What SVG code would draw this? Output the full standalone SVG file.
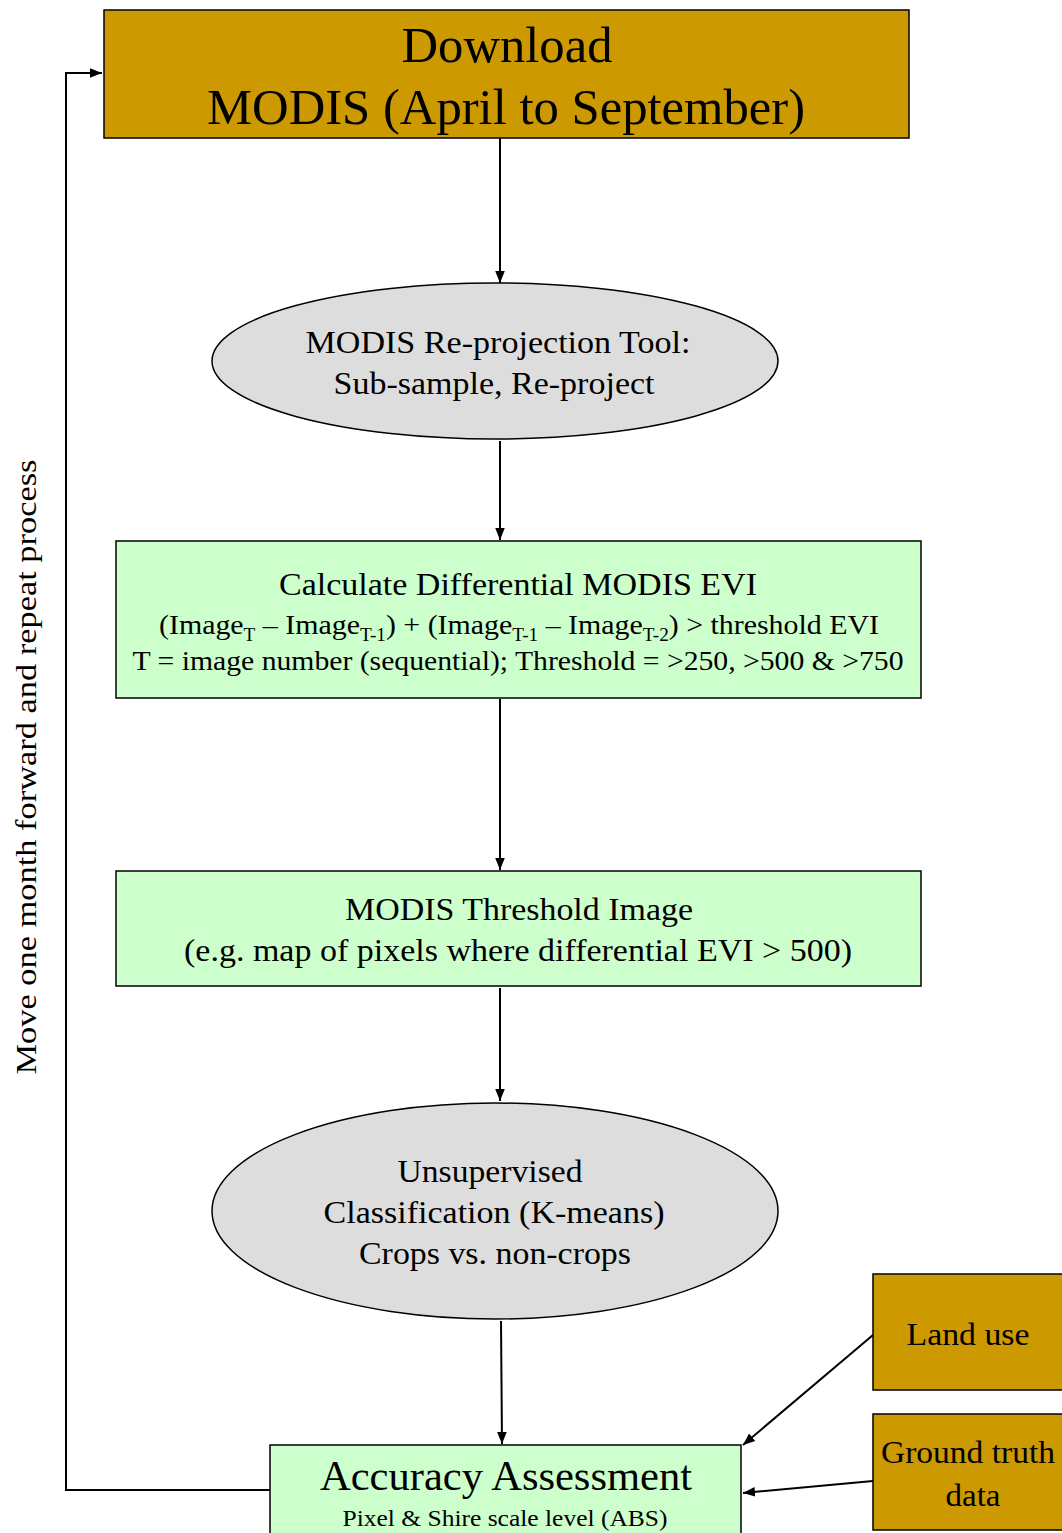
<svg xmlns="http://www.w3.org/2000/svg" width="1062" height="1533" viewBox="0 0 1062 1533">
<defs>
<style>
text{font-family:"Liberation Serif","Times New Roman",serif;fill:#000;text-anchor:middle}
.gold{fill:#CC9900;stroke:#000;stroke-width:1.5}
.green{fill:#CCFFCC;stroke:#000;stroke-width:1.5}
.grey{fill:#DDDDDD;stroke:#000;stroke-width:1.5}
.c{fill:none;stroke:#000;stroke-width:2}
</style>
<marker id="ah" viewBox="0 0 10 10" refX="10" refY="5" markerWidth="12" markerHeight="12" markerUnits="userSpaceOnUse" orient="auto">
<path d="M0,1 L10,5 L0,9 z" fill="#000"/>
</marker>
</defs>
<rect width="1062" height="1533" fill="#fff"/>
<g id="connectors">
<line class="c" x1="500" y1="138" x2="500" y2="283" marker-end="url(#ah)"/>
<line class="c" x1="500" y1="441" x2="500" y2="540" marker-end="url(#ah)"/>
<line class="c" x1="500" y1="699" x2="500" y2="870" marker-end="url(#ah)"/>
<line class="c" x1="500" y1="988" x2="500" y2="1101" marker-end="url(#ah)"/>
<line class="c" x1="501" y1="1321" x2="502" y2="1444" marker-end="url(#ah)"/>
<line class="c" x1="873" y1="1335" x2="743" y2="1445" marker-end="url(#ah)"/>
<line class="c" x1="873" y1="1481" x2="743" y2="1493" marker-end="url(#ah)"/>
<polyline class="c" points="270,1490 66,1490 66,73 102,73" marker-end="url(#ah)"/>
</g>
<g id="download">
<rect class="gold" x="104" y="10" width="805" height="128"/>
<text x="507" y="62" font-size="50" textLength="211" lengthAdjust="spacingAndGlyphs">Download</text>
<text x="506" y="124" font-size="50" textLength="598" lengthAdjust="spacingAndGlyphs">MODIS (April to September)</text>
</g>
<g id="reprojection">
<ellipse class="grey" cx="495" cy="361" rx="283" ry="78"/>
<text x="498" y="353" font-size="32" textLength="385" lengthAdjust="spacingAndGlyphs">MODIS Re-projection Tool:</text>
<text x="494" y="394" font-size="32" textLength="321" lengthAdjust="spacingAndGlyphs">Sub-sample, Re-project</text>
</g>
<g id="differential">
<rect class="green" x="116" y="541" width="805" height="157"/>
<text x="518" y="595" font-size="32" textLength="478" lengthAdjust="spacingAndGlyphs">Calculate Differential MODIS EVI</text>
<text x="519" y="634" font-size="28" textLength="720" lengthAdjust="spacingAndGlyphs">(Image<tspan font-size="18" dy="7">T</tspan><tspan dy="-7"> – Image</tspan><tspan font-size="18" dy="7">T-1</tspan><tspan dy="-7">) + (Image</tspan><tspan font-size="18" dy="7">T-1</tspan><tspan dy="-7"> – Image</tspan><tspan font-size="18" dy="7">T-2</tspan><tspan dy="-7">) &gt; threshold EVI</tspan></text>
<text x="518" y="670" font-size="28" textLength="771" lengthAdjust="spacingAndGlyphs">T = image number (sequential); Threshold = &gt;250, &gt;500 &amp; &gt;750</text>
</g>
<g id="threshold">
<rect class="green" x="116" y="871" width="805" height="115"/>
<text x="519" y="920" font-size="32" textLength="348" lengthAdjust="spacingAndGlyphs">MODIS Threshold Image</text>
<text x="518" y="961" font-size="32" textLength="668" lengthAdjust="spacingAndGlyphs">(e.g. map of pixels where differential EVI &gt; 500)</text>
</g>
<g id="classification">
<ellipse class="grey" cx="495" cy="1211" rx="283" ry="108"/>
<text x="490" y="1182" font-size="32" textLength="185" lengthAdjust="spacingAndGlyphs">Unsupervised</text>
<text x="494" y="1223" font-size="32" textLength="341" lengthAdjust="spacingAndGlyphs">Classification (K-means)</text>
<text x="495" y="1264" font-size="32" textLength="272" lengthAdjust="spacingAndGlyphs">Crops vs. non-crops</text>
</g>
<g id="accuracy">
<rect class="green" x="270" y="1445" width="471" height="95"/>
<text x="506" y="1490" font-size="42" textLength="372" lengthAdjust="spacingAndGlyphs">Accuracy Assessment</text>
<text x="505" y="1526" font-size="24" textLength="325" lengthAdjust="spacingAndGlyphs">Pixel &amp; Shire scale level (ABS)</text>
</g>
<g id="landuse">
<rect class="gold" x="873" y="1274" width="195" height="116"/>
<text x="968" y="1345" font-size="32" textLength="123" lengthAdjust="spacingAndGlyphs">Land use</text>
</g>
<g id="groundtruth">
<rect class="gold" x="873" y="1414" width="195" height="116"/>
<text x="968" y="1463" font-size="32" textLength="174" lengthAdjust="spacingAndGlyphs">Ground truth</text>
<text x="973" y="1506" font-size="32" textLength="55" lengthAdjust="spacingAndGlyphs">data</text>
</g>
<g id="loop-label">
<text transform="translate(36,767) rotate(-90)" font-size="30" textLength="615" lengthAdjust="spacingAndGlyphs">Move one month forward and repeat process</text>
</g>
</svg>
